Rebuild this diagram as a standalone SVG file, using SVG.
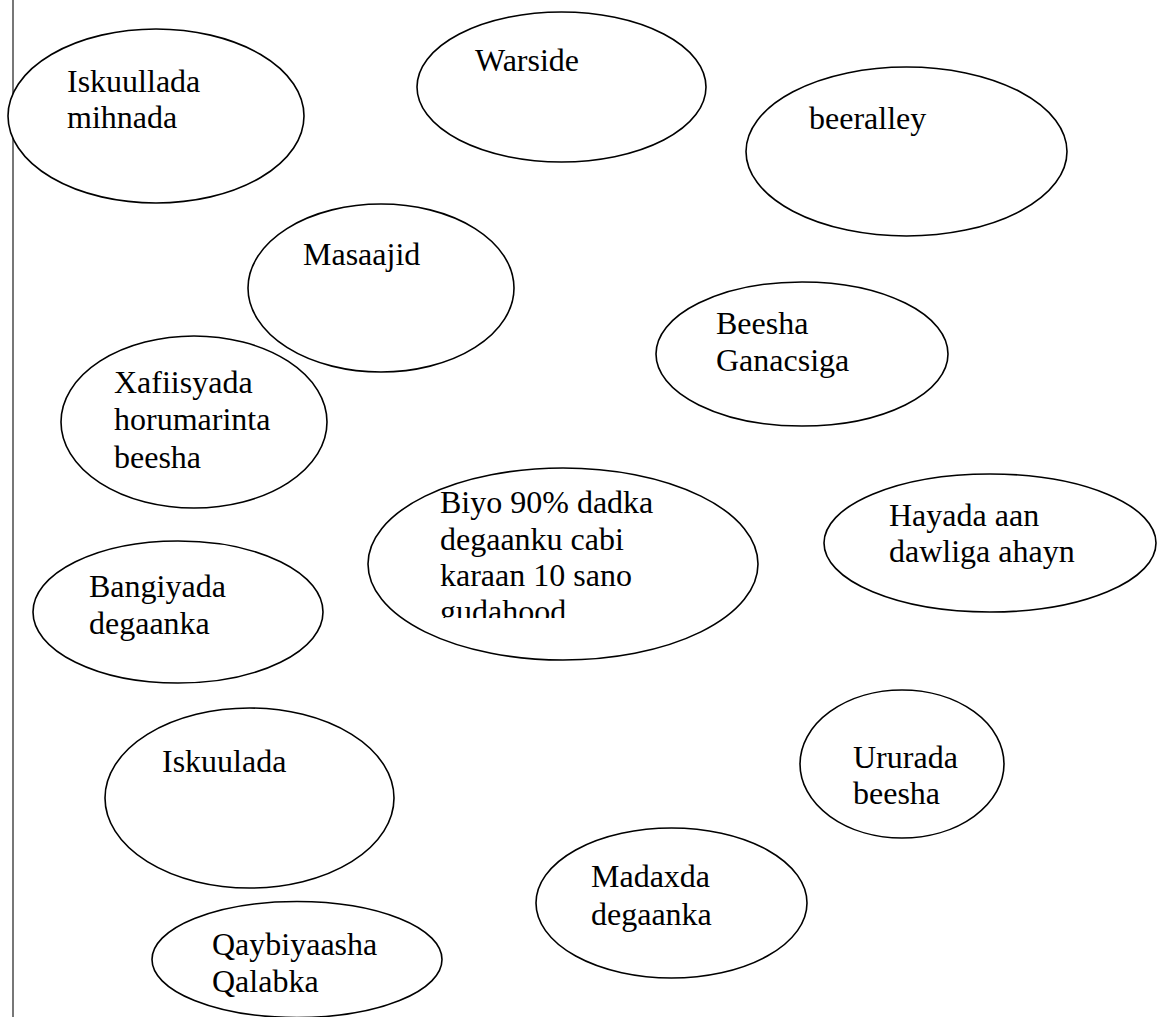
<svg xmlns="http://www.w3.org/2000/svg" width="1157" height="1017" viewBox="0 0 1157 1017">
<style>
.n ellipse{fill:#fff;stroke:#000;stroke-width:1.6}
.n text{font-size:32px;fill:#000}
</style>
<defs>
<clipPath id="clipBig"><rect x="360" y="460" width="410" height="158"/></clipPath>
</defs>
<rect width="1157" height="1017" fill="#fff"/>
<line x1="13" y1="0" x2="13" y2="1017" stroke="#555" stroke-width="1.6"/>
<g id="connectors"></g>
<g font-family="Liberation Serif, DejaVu Serif, serif">
<g id="n1" class="n"><ellipse cx="156" cy="116" rx="148" ry="87"/><text x="67" y="92">Iskuullada</text><text x="67" y="128">mihnada</text></g>
<g id="n2" class="n"><ellipse cx="561.5" cy="87" rx="144.5" ry="75"/><text x="475" y="71">Warside</text></g>
<g id="n3" class="n"><ellipse cx="906.5" cy="151.5" rx="160.5" ry="84.5"/><text x="809" y="129">beeralley</text></g>
<g id="n4" class="n"><ellipse cx="381" cy="288" rx="133" ry="84"/><text x="303" y="265">Masaajid</text></g>
<g id="n5" class="n"><ellipse cx="802" cy="354" rx="146" ry="72"/><text x="716" y="334">Beesha</text><text x="716" y="371">Ganacsiga</text></g>
<g id="n6" class="n"><ellipse cx="194" cy="422" rx="133" ry="86"/><text x="114" y="393">Xafiisyada</text><text x="114" y="430">horumarinta</text><text x="114" y="468">beesha</text></g>
<g id="n7" class="n"><ellipse cx="563" cy="564" rx="195" ry="96"/><g clip-path="url(#clipBig)"><text x="440" y="513">Biyo 90% dadka</text><text x="440" y="550">degaanku cabi</text><text x="440" y="586">karaan 10 sano</text><text x="440" y="622">gudahood</text></g></g>
<g id="n8" class="n"><ellipse cx="990" cy="543" rx="166" ry="69"/><text x="889" y="526">Hayada aan</text><text x="889" y="562">dawliga ahayn</text></g>
<g id="n9" class="n"><ellipse cx="178" cy="612" rx="145" ry="71"/><text x="89" y="597">Bangiyada</text><text x="89" y="634">degaanka</text></g>
<g id="n10" class="n"><ellipse cx="249.5" cy="798" rx="144.5" ry="90"/><text x="162" y="772">Iskuulada</text></g>
<g id="n11" class="n"><ellipse cx="902" cy="764" rx="102" ry="74"/><text x="853" y="768">Ururada</text><text x="853" y="804">beesha</text></g>
<g id="n12" class="n"><ellipse cx="671.5" cy="903" rx="135.5" ry="75"/><text x="591" y="887">Madaxda</text><text x="591" y="925">degaanka</text></g>
<g id="n13" class="n"><ellipse cx="297" cy="959.5" rx="145" ry="58"/><text x="212" y="955">Qaybiyaasha</text><text x="212" y="992">Qalabka</text></g>
</g>
</svg>
